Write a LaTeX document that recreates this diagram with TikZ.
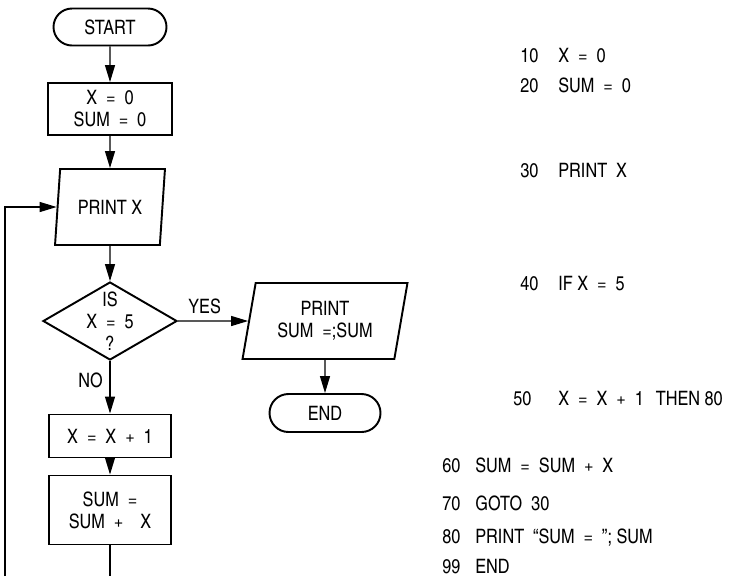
\documentclass[tikz,border=0pt]{standalone}
\usepackage{fontspec}
\setmainfont{texgyreheroscn}[Extension=.otf, UprightFont=*-regular]
\usetikzlibrary{shapes.geometric,shapes.misc,arrows.meta}
\newcommand{\eqs}{\hspace{.45em}=\hspace{.45em}}
\newcommand{\pls}{\hspace{.45em}+\hspace{.45em}}
\tikzset{
	box/.style={draw, line width=1.1pt, rectangle, align=center, inner sep=0pt},
	term/.style={draw, line width=1.1pt, rounded rectangle, inner sep=0pt},
	io/.style={draw, line width=1.1pt, trapezium, trapezium left angle=77, trapezium right angle=103, trapezium stretches=true, align=center, inner sep=0pt},
	decide/.style={draw, line width=1.1pt, diamond, aspect=1.72, align=center, inner sep=-6pt},
	flow/.style={line width=.7pt, -{Triangle[length=3.4mm, width=2mm]}},
	code/.style={anchor=base west, inner sep=0pt}
}

\begin{document}
\begin{tikzpicture}[x=.2mm, y=-.2mm]
	\fontsize{11.3}{12.5}\selectfont
	\useasboundingbox (0,0) rectangle (729,576);

	% flow chart
	\node[term, minimum width=22.6mm, minimum height=7.4mm] (start) at (110,27) {START};
	\node[box, minimum width=24.8mm, minimum height=10.4mm] (init) at (110,109) {X\eqs0\\SUM\eqs0};
	\node[io, minimum width=22mm, minimum height=15.2mm] (printx) at (110,207) {PRINT X};
	\node[decide, minimum width=26.8mm, minimum height=15.6mm] (test) at (110,321) {IS\\X\eqs5\\?};
	\node[io, minimum width=33.2mm, minimum height=15.2mm] (printsum) at (325,321) {PRINT\\SUM\hspace{.45em}=;SUM};
	\node[term, minimum width=22.2mm, minimum height=7.6mm] (end) at (325,413) {END};
	\node[box, minimum width=24.4mm, minimum height=8.6mm] (incx) at (110,436) {X\eqs X\pls1};
	\node[box, minimum width=24.4mm, minimum height=13.8mm] (addsum) at (110,510) {SUM\hspace{.45em}=\\SUM\pls\hspace{.4em}X};

	\draw[flow] (start) -- (init);
	\draw[flow] (init) -- (printx);
	\draw[flow] (printx) -- (test);
	\draw[flow] (test) -- node[above, pos=.38] (yes) {YES} (printsum);
	\draw[flow] (printsum) -- (end);
	\draw[flow] (test) -- node[left, pos=.36] (no) {NO} (incx);
	\draw[flow] (incx) -- (addsum);

	% loop back (runs off the bottom)
	\coordinate (loopbot) at (110,576);
	\coordinate (loopleft) at (5,576);
	\draw[line width=.7pt] (addsum) -- (loopbot);
	\draw[flow] (loopleft) |- (printx.west);

	% program listing
	\foreach \num/\xn/\xs/\yy/\stmt in {
		10/520/558/62/{X\eqs0},
		20/520/558/92/{SUM\eqs0},
		30/520/558/177/{PRINT\hspace{.45em}X},
		40/520/558/290/{IF X\eqs5},
		50/513/558/405/{X\eqs X\pls1\hspace{.6em}THEN 80},
		60/442/475/472/{SUM\eqs SUM\pls X},
		70/442/475/510/{GOTO\hspace{.45em}30},
		80/442/475/543/{PRINT\hspace{.45em}``SUM\eqs''; SUM},
		99/442/475/573/{END}}{
		\node[code] (n\num) at (\xn,\yy) {\num};
		\node[code] (s\num) at (\xs,\yy) {\stmt};
	}
\end{tikzpicture}
\end{document}
